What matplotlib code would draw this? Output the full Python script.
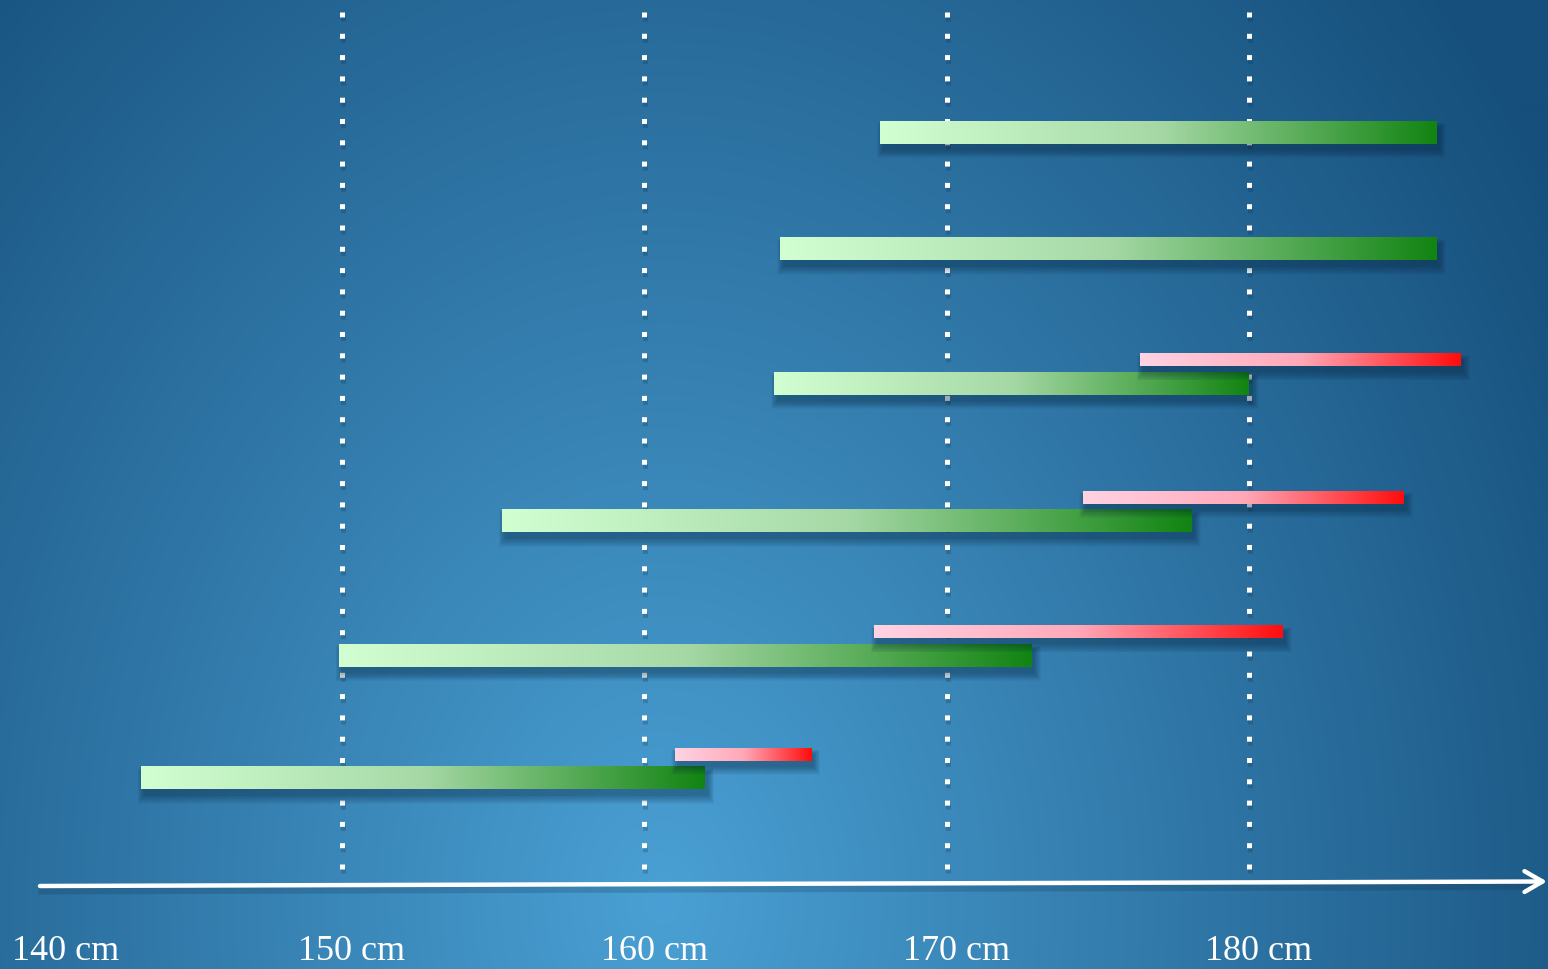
import numpy as np
import matplotlib
matplotlib.use("Agg")
import matplotlib.pyplot as plt
from matplotlib.colors import LinearSegmentedColormap, to_rgb
from matplotlib.patches import Rectangle, FancyArrowPatch

# ---------------- data ----------------
green_start = [167.8, 164.5, 164.3, 155.3, 149.9, 143.35]
green_end = [186.2, 186.2, 180.0, 178.1, 172.8, 162.0]
red_rows = [2, 3, 4, 5]
red_start = [176.4, 174.5, 167.6, 161.0]
red_end = [187.0, 185.1, 181.1, 165.5]
grid_values = [150, 160, 170, 180]
tick_values = [140, 150, 160, 170, 180]
tick_labels = ["140 cm", "150 cm", "160 cm", "170 cm", "180 cm"]

# ---------------- layout (pixels, y from top) ----------------
W, H = 1548, 969
PX_PER_CM = 30.233
X0_PX = 39.7  # pixel position of 140 cm
row_y = [132.5, 249, 383.5, 521, 655.5, 778]
red_offset = -23.5
green_h = 23
red_h = 12.5
label_shift = [0.87, 0.30, 0.34, 0.34, 0.30]

def px2cm(px):
    return 140 + (px - X0_PX) / PX_PER_CM

fig = plt.figure(figsize=(W / 100, H / 100), dpi=100)
ax = fig.add_axes([0, 0, 1, 1])
ax.set_autoscale_on(False)
xmin, xmax = px2cm(0), px2cm(W)
ax.set_xlim(xmin, xmax)
ax.set_ylim(H, 0)
ax.axis("off")

# ---------------- background radial gradient ----------------
gy, gx = np.mgrid[0:H:4, 0:W:4].astype(float)
cx, cy, rx, ry = 660, 900, 1000, 1300
t = np.sqrt(((gx - cx) / rx) ** 2 + ((gy - cy) / ry) ** 2)
f = np.clip(t / 1.05, 0, 1)[..., None]
c_in = np.array(to_rgb("#4aa0d4"))
c_out = np.array(to_rgb("#164f7b"))
bg = c_in * (1 - f) + c_out * f
ax.imshow(bg, extent=(xmin, xmax, H, 0), aspect="auto", interpolation="bilinear", zorder=0)

# ---------------- dotted grid lines ----------------
for g in grid_values:
    ax.plot([g + 0.03, g + 0.03], [16, 874], color="#0a2a45", alpha=0.22,
            lw=3.6, dashes=(1, 3.26), dash_capstyle="butt", zorder=1)
    ax.plot([g, g], [12, 870], color="white", lw=3.6, dashes=(1, 3.26),
            dash_capstyle="butt", zorder=2)

# ---------------- axis arrow ----------------
ax.plot([px2cm(42), px2cm(1530)], [891, 886.5], color="#0a2a45", lw=5, alpha=0.2, zorder=2)
arrow = FancyArrowPatch((px2cm(40), 886), (px2cm(1547), 881.5),
                        arrowstyle="->,head_length=13,head_width=7.5",
                        mutation_scale=1, color="white", lw=3.2,
                        shrinkA=0, shrinkB=0, zorder=3, capstyle="round", joinstyle="round")
ax.add_patch(arrow)

# ---------------- bars ----------------
green_cmap = LinearSegmentedColormap.from_list("g", ["#d2ffd2", "#a6d8a6", "#128412"])
red_cmap = LinearSegmentedColormap.from_list("r", ["#ffd3e3", "#ffa8b8", "#ff0d0d"])
grad = np.linspace(0, 1, 256)[None, :]

def shadow(x0, x1, yc, h, z):
    dx = 3 / PX_PER_CM
    for k in range(10):
        e = k * 1.4
        ax.add_patch(Rectangle((x0 + dx - e / PX_PER_CM * 0.5, yc - h / 2 + 6 - e * 0.35),
                               (x1 - x0) + e / PX_PER_CM, h + e,
                               facecolor="#06223a", edgecolor="none", alpha=0.045, zorder=z))

def bar(x0, x1, yc, h, cmap, z):
    shadow(x0, x1, yc, h, z)
    ax.imshow(grad, cmap=cmap, extent=(x0, x1, yc + h / 2, yc - h / 2),
              aspect="auto", interpolation="bilinear", zorder=z + 0.5)

for i, (s, e) in enumerate(zip(green_start, green_end)):
    bar(s, e, row_y[i], green_h, green_cmap, 4)

for r, s, e in zip(red_rows, red_start, red_end):
    bar(s, e, row_y[r] + red_offset, red_h, red_cmap, 6)

# ---------------- tick labels ----------------
for v, lab, sh in zip(tick_values, tick_labels, label_shift):
    ax.text(v + sh, 968.5, lab, ha="center", va="bottom", color="white",
            fontsize=26, family="Liberation Serif", zorder=8)

fig.savefig("out.png", dpi=100)
